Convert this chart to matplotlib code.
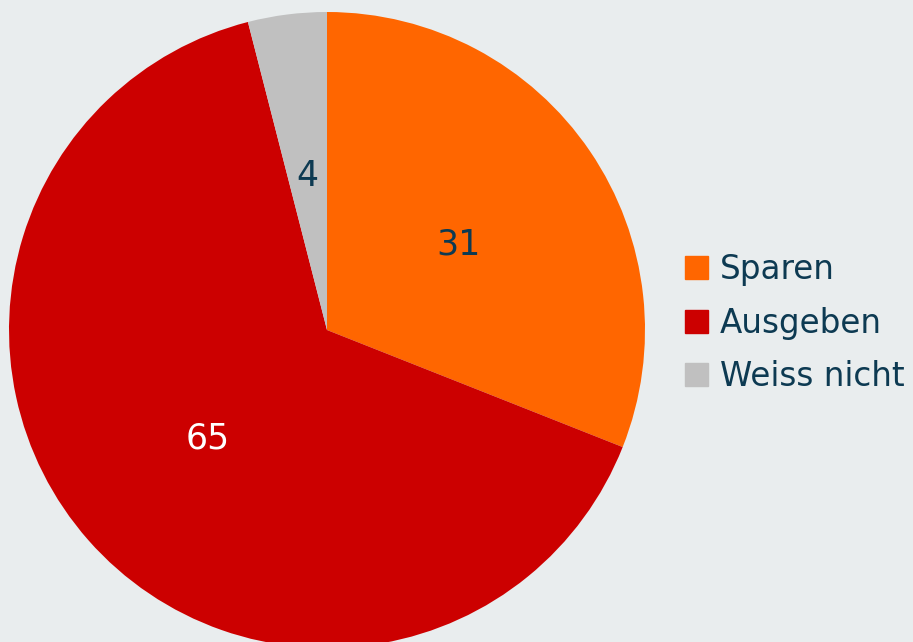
import matplotlib
matplotlib.use("Agg")
import matplotlib.pyplot as plt
import matplotlib.patches as mpatches

# data
labels = ["Sparen", "Ausgeben", "Weiss nicht"]
values = [31, 65, 4]
colors = ["#FF6600", "#CC0000", "#C0C0C0"]
value_colors = ["#0D3A52", "#FFFFFF", "#0D3A52"]

bg = "#E9EDEE"
text_col = "#0D3A52"

fig = plt.figure(figsize=(9.13, 6.42), dpi=100)
fig.patch.set_facecolor(bg)

# pie centred at (327, 330) px, radius ~318 px
ax = fig.add_axes([9 / 913, (642 - 648) / 642, 636 / 913, 636 / 642])
ax.set_facecolor(bg)

wedges, texts, autotexts = ax.pie(
    values, colors=colors, startangle=90, counterclock=False,
    radius=1.0, autopct=lambda p: "", pctdistance=0.5,
    wedgeprops=dict(linewidth=0),
)
for t, v, c in zip(autotexts, values, value_colors):
    t.set_text(str(v))
    t.set_color(c)
    t.set_fontsize(25)
    t.set_va("center_baseline")

ax.set_xlim(-1, 1)
ax.set_ylim(-1, 1)
ax.set_aspect("equal")
ax.axis("off")

handles = [mpatches.Patch(color=c, label=l) for c, l in zip(colors, labels)]
leg = fig.legend(
    handles=handles, loc="center left",
    bbox_to_anchor=(685 / 913, 1 - 323 / 642), bbox_transform=fig.transFigure,
    frameon=False, fontsize=23.5, borderpad=0, borderaxespad=0,
    handlelength=0.7, handleheight=0.7, handletextpad=0.37, labelspacing=0.62,
)
for t in leg.get_texts():
    t.set_color(text_col)

fig.savefig("out.png", dpi=100, facecolor=bg)
